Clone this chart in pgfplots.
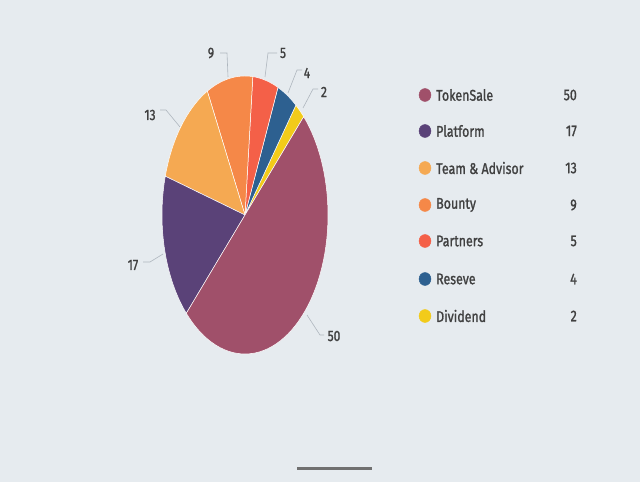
\documentclass[border=0pt]{standalone}
\usepackage{pgfplots}
\pgfplotsset{compat=1.18}
\usepackage{fontspec}
\setmainfont{Fira Sans}[FakeBold=1.4]
\definecolor{bgc}{HTML}{E6EBEF}
\definecolor{cTok}{HTML}{A0506A}
\definecolor{cPla}{HTML}{5A4278}
\definecolor{cTea}{HTML}{F5A952}
\definecolor{cBou}{HTML}{F58848}
\definecolor{cPar}{HTML}{F46048}
\definecolor{cRes}{HTML}{2D6090}
\definecolor{cDiv}{HTML}{F2CB1A}
\definecolor{txt}{HTML}{404040}
\definecolor{lead}{HTML}{AEB6BE}
% slice: colour, cumulative start (percent), value (percent)
\newcommand{\slice}[3]{\addplot[fill=#1,draw=white,line width=0.5pt,domain={45+3.6*#2}:{45+3.6*(#2+#3)},samples=60,variable=\t] ({245+83*cos(\t)},{267+139*sin(\t)}) -- (axis cs:245,267) -- cycle;}
\newcommand{\sq}[1]{\scalebox{0.8}[1]{#1}}
\newcommand{\legmark}[2]{\addplot[only marks, mark=*, mark size=6.5bp, color=#1, mark options={draw=#1, fill=#1, xscale=0.92}] coordinates {(425,#2)};}
\begin{document}
\begin{tikzpicture}
\begin{axis}[scale only axis, width=640bp, height=482bp,
  xmin=0, xmax=640, ymin=0, ymax=482, hide axis, clip=false]
\fill[bgc] (axis cs:0,0) rectangle (axis cs:640,482);
\slice{cDiv}{0}{2}
\slice{cRes}{2}{4}
\slice{cPar}{6}{5}
\slice{cBou}{11}{9}
\slice{cTea}{20}{13}
\slice{cPla}{33}{17}
\slice{cTok}{50}{50}
% leader lines
\draw[lead, line width=0.6pt] (axis cs:220,429) -- (axis cs:227,429) -- (axis cs:228,405);
\draw[lead, line width=0.6pt] (axis cs:277,429) -- (axis cs:268,429) -- (axis cs:265,405);
\draw[lead, line width=0.6pt] (axis cs:302,412) -- (axis cs:297,412) -- (axis cs:288,389);
\draw[lead, line width=0.6pt] (axis cs:318,393) -- (axis cs:313,393) -- (axis cs:303,374);
\draw[lead, line width=0.6pt] (axis cs:160,372) -- (axis cs:166,372) -- (axis cs:180,355);
\draw[lead, line width=0.6pt] (axis cs:143,220) -- (axis cs:150,220) -- (axis cs:163,228);
\draw[lead, line width=0.6pt] (axis cs:307,167) -- (axis cs:320,147) -- (axis cs:324,147);
\begin{scope}[every node/.style={text=txt, font=\fontsize{15bp}{17bp}\selectfont, inner sep=0pt}]
\node at (axis cs:211,429) {\sq{9}};
\node at (axis cs:283,429) {\sq{5}};
\node at (axis cs:307,409) {\sq{4}};
\node at (axis cs:324,390) {\sq{2}};
\node at (axis cs:150,367) {\sq{13}};
\node at (axis cs:133,217) {\sq{17}};
\node at (axis cs:334,146) {\sq{50}};
\end{scope}
% legend markers
\legmark{cTok}{387}
\legmark{cPla}{351}
\legmark{cTea}{314}
\legmark{cBou}{277}
\legmark{cPar}{241}
\legmark{cRes}{203}
\legmark{cDiv}{166}
\begin{scope}[every node/.style={text=txt, font=\fontsize{15.5bp}{18bp}\selectfont, inner sep=0pt}]
\node[anchor=west] at (axis cs:436,387) {\sq{TokenSale}};
\node[anchor=west] at (axis cs:436,351) {\sq{Platform}};
\node[anchor=west] at (axis cs:436,314) {\sq{Team \& Advisor}};
\node[anchor=west] at (axis cs:436,277) {\sq{Bounty}};
\node[anchor=west] at (axis cs:436,241) {\sq{Partners}};
\node[anchor=west] at (axis cs:436,203) {\sq{Reseve}};
\node[anchor=west] at (axis cs:436,166) {\sq{Dividend}};
\node[anchor=east] at (axis cs:577,387) {\sq{50}};
\node[anchor=east] at (axis cs:577,351) {\sq{17}};
\node[anchor=east] at (axis cs:577,314) {\sq{13}};
\node[anchor=east] at (axis cs:577,277) {\sq{9}};
\node[anchor=east] at (axis cs:577,241) {\sq{5}};
\node[anchor=east] at (axis cs:577,203) {\sq{4}};
\node[anchor=east] at (axis cs:577,166) {\sq{2}};
\end{scope}
\draw[color={rgb,255:red,112;green,112;blue,112}, line width=3bp] (axis cs:297,14) -- (axis cs:372,14);
\end{axis}
\end{tikzpicture}
\end{document}
